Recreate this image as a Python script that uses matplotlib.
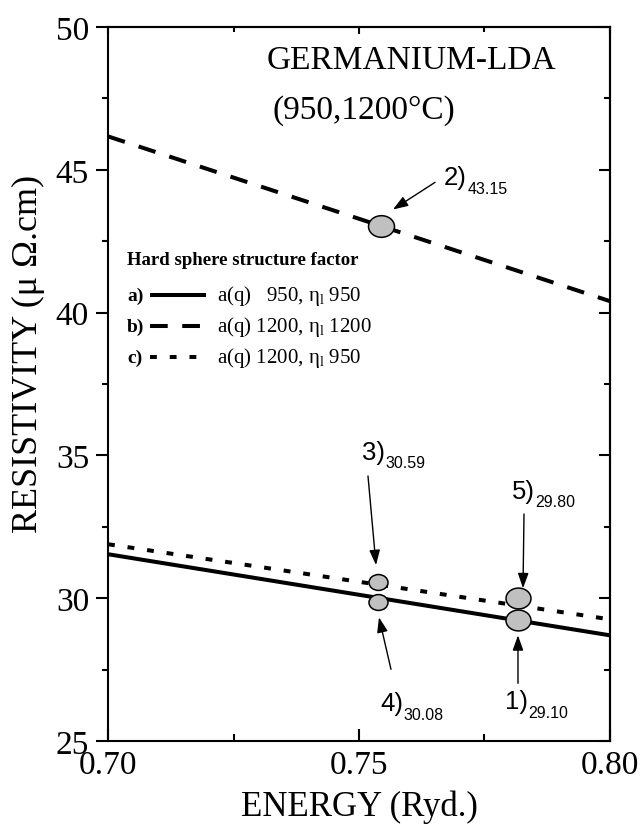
import matplotlib
matplotlib.use("Agg")
import matplotlib.pyplot as plt
from matplotlib.path import Path
from matplotlib.transforms import Affine2D
from matplotlib.lines import Line2D

# ---------------- data ----------------
energy = [0.70, 0.80]
rho_a = [31.54, 28.70]   # a(q) 950, eta_l 950   (solid)
rho_b = [46.17, 40.40]   # a(q) 1200, eta_l 1200 (dashed)
rho_c = [31.89, 29.26]   # a(q) 1200, eta_l 950  (dotted)

point_ids = ["1)", "2)", "3)", "4)", "5)"]
point_vals = ["29.10", "43.15", "30.59", "30.08", "29.80"]
point_x = [0.7817, 0.7544, 0.7538, 0.7538, 0.7817]
point_y = [29.23, 43.02, 30.56, 29.86, 30.00]

x_ticks = [0.70, 0.75, 0.80]
x_ticklabels = ["0.70", "0.75", "0.80"]
y_ticks = [25, 30, 35, 40, 45, 50]

legend_tags = ["a)", "b)", "c)"]
legend_texts = [r"a(q)   950, $\mathrm{\eta}_{\mathrm{l}}$ 950",
                r"a(q) 1200, $\mathrm{\eta}_{\mathrm{l}}$ 1200",
                r"a(q) 1200, $\mathrm{\eta}_{\mathrm{l}}$ 950"]

# ---------------- layout / style ----------------
plt.rcParams["mathtext.fontset"] = "custom"
plt.rcParams["mathtext.rm"] = "Liberation Serif"
plt.rcParams["mathtext.it"] = "Liberation Serif:italic"
plt.rcParams["mathtext.bf"] = "Liberation Serif:bold"

SERIF = "Liberation Serif"
SANS = "Liberation Sans"

fig = plt.figure(figsize=(6.42, 8.28), dpi=100)
ax = fig.add_axes([108 / 642, (828 - 742) / 828, 502 / 642, 714 / 828])

LW = 2.9
dash_b = (4.4, 3.6)
dot_c = (1.7, 3.2)

ax.plot(energy, rho_a, color="black", lw=LW, solid_capstyle="butt", zorder=2)
ax.plot(energy, rho_b, color="black", lw=LW, dashes=dash_b,
        dash_capstyle="butt", zorder=2)
ax.plot(energy, rho_c, color="black", lw=LW, dashes=dot_c,
        dash_capstyle="butt", zorder=2)

# elliptical markers
ell = Path.unit_circle().transformed(Affine2D().scale(1.2, 1.0))
marker_sizes = [18.0, 18.7, 13.7, 13.7, 18.0]
for px, py, ms in zip(point_x, point_y, marker_sizes):
    ax.plot([px], [py], marker=ell, ms=ms, mfc="#c0c0c0", mec="black",
            mew=1.1, ls="none", zorder=4)

# annotation layout (text baseline-left, arrow tail, arrow tip)
text_pos = [(0.77908, 26.14), (0.76693, 44.49), (0.75060, 34.88),
            (0.75418, 26.07), (0.78048, 33.51)]
arrow_tail = [(0.78167, 27.02), (0.76514, 44.56), (0.75179, 34.28),
              (0.75637, 27.51), (0.78287, 32.95)]
arrow_tip = [(0.78167, 28.70), (0.75677, 43.61), (0.75339, 31.16),
             (0.75398, 29.33), (0.78267, 30.35)]

for lab, val, tp, tl, tip in zip(point_ids, point_vals, text_pos,
                                 arrow_tail, arrow_tip):
    ax.text(tp[0], tp[1], lab, family=SANS, fontsize=18.5,
            ha="left", va="baseline", zorder=5)
    ax.annotate(val, xy=tp, xytext=(16.8, -6.0), textcoords="offset points",
                family=SANS, fontsize=11.5, ha="left", va="baseline", zorder=5)
    ax.annotate("", xy=tip, xytext=tl,
                arrowprops=dict(arrowstyle="-|>,head_length=0.7,head_width=0.25",
                                lw=1.0, color="black", shrinkA=0, shrinkB=0,
                                mutation_scale=13),
                zorder=5)

# title texts
ax.text(0.73167, 48.84, "GERMANIUM-LDA", family=SERIF, fontsize=24,
        ha="left", va="center")
ax.text(0.73267, 47.12, "(950,1200\u00b0C)", family=SERIF, fontsize=24,
        ha="left", va="center")

# legend (manual)
def ax_x(px):
    return (px - 108) / 502

def ax_y(py):
    return (742 - py) / 714

ax.text(ax_x(127), ax_y(261), "Hard sphere structure factor", family=SERIF,
        fontsize=13.5, weight="bold", ha="left", va="center",
        transform=ax.transAxes)
row_y = [296, 327, 358]
row_styles = [dict(), dict(dashes=dash_b), dict(dashes=dot_c)]
for tag, txt, ry, sty in zip(legend_tags, legend_texts, row_y, row_styles):
    ax.text(ax_x(127), ax_y(ry), tag, family=SERIF, fontsize=14,
            weight="bold", ha="left", va="center", transform=ax.transAxes)
    ln = Line2D([ax_x(150), ax_x(206)], [ax_y(ry), ax_y(ry)], color="black",
                lw=LW, transform=ax.transAxes, solid_capstyle="butt",
                dash_capstyle="butt", **sty)
    ax.add_line(ln)
    ax.text(ax_x(217), ax_y(ry), txt, family=SERIF, fontsize=15,
            ha="left", va="center", transform=ax.transAxes)

# axes
ax.set_xlim(0.70, 0.80)
ax.set_ylim(25, 50)
ax.set_xticks(x_ticks)
ax.set_xticklabels(x_ticklabels)
ax.set_xticks([0.725, 0.775], minor=True)
ax.set_yticks(y_ticks)
ax.set_yticks([27.5, 32.5, 37.5, 42.5, 47.5], minor=True)

for sp in ax.spines.values():
    sp.set_linewidth(1.5)

ax.tick_params(axis="y", which="major", direction="out", length=8.6,
               width=1.5, pad=5, labelsize=24)
ax.tick_params(axis="y", which="minor", direction="out", length=4.3,
               width=1.5)
ax.tick_params(axis="x", which="major", direction="in", length=8.4,
               width=1.5, pad=6, labelsize=24)
ax.tick_params(axis="x", which="minor", direction="in", length=4.8,
               width=1.5)
for lbl in ax.get_xticklabels() + ax.get_yticklabels():
    lbl.set_family(SERIF)

top = ax.secondary_xaxis("top")
top.set_xticks(x_ticks)
top.set_xticks([0.725, 0.775], minor=True)
top.tick_params(which="major", direction="in", length=5, width=1.5,
                labeltop=False)
top.tick_params(which="minor", direction="in", length=3.6, width=1.5)
top.spines["top"].set_linewidth(1.5)

right = ax.secondary_yaxis("right")
right.set_yticks(y_ticks)
right.set_yticks([27.5, 32.5, 37.5, 42.5, 47.5], minor=True)
right.tick_params(which="major", direction="in", length=8, width=1.5,
                  labelright=False)
right.tick_params(which="minor", direction="in", length=4.3, width=1.5)
right.spines["right"].set_linewidth(1.5)

ax.set_xlabel("ENERGY (Ryd.)", family=SERIF, fontsize=25)
ax.set_ylabel("RESISTIVITY (\u03bc \u03a9.cm)", family=SERIF, fontsize=26)
ax.xaxis.set_label_coords(0.5, -0.068)
ax.yaxis.set_label_coords(-0.125, 0.543)

fig.savefig("out.png", dpi=100)
